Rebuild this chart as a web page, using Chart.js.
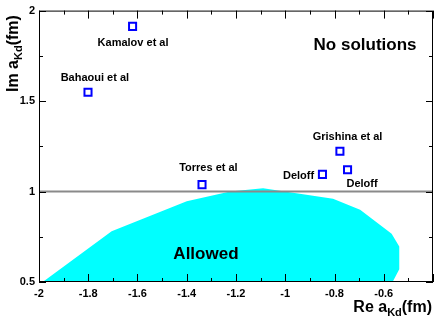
<!DOCTYPE html>
<html><head><meta charset="utf-8">
<script src="https://cdn.jsdelivr.net/npm/chart.js@4.4.0/dist/chart.umd.min.js"></script>
<style>html,body{margin:0;padding:0;background:#fff}</style>
</head><body>
<canvas id="c" width="436" height="319"></canvas>
<script>
// ---- data ----
const measurementNames = ['Kamalov et al', 'Bahaoui et al', 'Torres et al', 'Grishina et al', 'Deloff', 'Deloff'];
const measurementRe = [-1.620, -1.801, -1.338, -0.778, -0.849, -0.747];
const measurementIm = [1.913, 1.549, 1.038, 1.223, 1.095, 1.120];
const allowedRe = [-1.985, -1.705, -1.400, -1.224, -1.090, -0.806, -0.696, -0.568, -0.537, -0.537, -0.564, -1.985];
const allowedIm = [0.500, 0.780, 0.946, 1.000, 1.018, 0.960, 0.900, 0.767, 0.696, 0.571, 0.500, 0.500];
const limitIm = 1;
const xTickValues = [-2, -1.8, -1.6, -1.4, -1.2, -1, -0.8, -0.6];
const yTickValues = [0.5, 1, 1.5, 2];
// label anchors (data coords, text centre)
const labelRe = [-1.618, -1.773, -1.312, -0.747, -0.946, -0.688];
const labelIm = [1.821, 1.628, 1.128, 1.299, 1.084, 1.043];
const regionNames = ['No solutions', 'Allowed'];
const regionRe = [-0.676, -1.322];
const regionIm = [1.810, 0.655];

const X_MIN = -2, X_MAX = -0.4, Y_MIN = 0.5, Y_MAX = 2;
const FONT = '"Liberation Sans", Arial, Helvetica, sans-serif';
const fmt = v => String(Number(v.toFixed(2)));
const TARGET = { left: 39, top: 5, right: 433, bottom: 282 };

function drawSubText(ctx, parts, x, y) {
  let cx = x;
  for (const [t, size, dy] of parts) {
    ctx.font = 'bold ' + size + 'px ' + FONT;
    ctx.fillText(t, cx, y + dy);
    cx += ctx.measureText(t).width;
  }
}
function partsWidth(ctx, parts) {
  let w = 0;
  for (const [t, size] of parts) { ctx.font = 'bold ' + size + 'px ' + FONT; w += ctx.measureText(t).width; }
  return w;
}

const decorPlugin = {
  id: 'decor',
  afterDatasetsDraw(chart) {
    const ctx = chart.ctx, a = chart.chartArea;
    const xs = chart.scales.x, ys = chart.scales.y;
    ctx.save();
    ctx.strokeStyle = '#000'; ctx.lineWidth = 1;
    ctx.strokeRect(a.left + 0.5, a.top + 0.5, a.right - a.left - 1, a.bottom - a.top - 1);
    ctx.beginPath();
    for (let i = 0; i <= 16; i++) {
      const v = X_MIN + i * 0.1;
      const px = Math.round(xs.getPixelForValue(v)) + 0.5;
      const len = (i % 2 === 0) ? 8 : 4;
      ctx.moveTo(px, a.bottom); ctx.lineTo(px, a.bottom - len);
      ctx.moveTo(px, a.top); ctx.lineTo(px, a.top + len);
    }
    for (let i = 0; i <= 6; i++) {
      const v = Y_MIN + i * 0.25;
      const py = Math.round(ys.getPixelForValue(v)) + 0.5;
      const len = (i % 2 === 0) ? 7 : 4;
      ctx.moveTo(a.left, py); ctx.lineTo(a.left + len, py);
      ctx.moveTo(a.right, py); ctx.lineTo(a.right - len, py);
    }
    ctx.stroke();
    ctx.fillStyle = '#000';
    ctx.textAlign = 'center'; ctx.textBaseline = 'middle';
    ctx.font = 'bold 11px ' + FONT;
    measurementNames.forEach((n, i) => {
      ctx.fillText(n, xs.getPixelForValue(labelRe[i]), ys.getPixelForValue(labelIm[i]));
    });
    ctx.font = 'bold 17px ' + FONT;
    regionNames.forEach((n, i) => {
      ctx.fillText(n, xs.getPixelForValue(regionRe[i]), ys.getPixelForValue(regionIm[i]));
    });
    ctx.textAlign = 'left'; ctx.textBaseline = 'alphabetic';
    const xParts = [['Re a', 16, 0], ['Kd', 11, 4], ['(fm)', 16, 0]];
    const xw = partsWidth(ctx, xParts);
    drawSubText(ctx, xParts, 432 - xw, 312);
    const yParts = [['Im a', 16, 0], ['Kd', 11, 4], ['(fm)', 16, 0]];
    ctx.translate(18, 92);
    ctx.rotate(-Math.PI / 2);
    drawSubText(ctx, yParts, 0, 0);
    ctx.restore();
  }
};

const tickFont = { family: FONT, size: 11, weight: 'bold' };

const chart = new Chart(document.getElementById('c'), {
  type: 'scatter',
  data: {
    datasets: [
      {
        label: 'measurements',
        data: measurementRe.map((x, i) => ({ x, y: measurementIm[i] })),
        pointStyle: 'rect', pointRadius: 5, pointBorderWidth: 2,
        borderColor: '#0000ff', backgroundColor: '#ffffff',
        order: 0
      },
      {
        label: 'limit',
        data: [{ x: X_MIN, y: limitIm }, { x: X_MAX, y: limitIm }],
        showLine: true, pointRadius: 0, borderColor: '#8a8a8a', borderWidth: 2,
        order: 1
      },
      {
        label: 'allowed',
        data: allowedRe.map((x, i) => ({ x, y: allowedIm[i] })),
        showLine: true, pointRadius: 0, borderWidth: 0, borderColor: 'rgba(0,0,0,0)',
        backgroundColor: '#00ffff', fill: 'shape', tension: 0,
        order: 2
      }
    ]
  },
  options: {
    responsive: false, animation: false, devicePixelRatio: 1,
    layout: { padding: { top: 5, right: 3, left: 0, bottom: 0 }, autoPadding: false },
    plugins: { legend: { display: false }, tooltip: { enabled: false } },
    scales: {
      x: {
        type: 'linear', min: X_MIN, max: X_MAX,
        afterBuildTicks: s => { s.ticks = xTickValues.map(v => ({ value: v })); },
        afterFit: s => { s.height = 37; },
        grid: { display: false, drawTicks: false },
        border: { display: false },
        ticks: { callback: v => fmt(v), font: tickFont, color: '#000', padding: 5, maxRotation: 0, autoSkip: false }
      },
      y: {
        type: 'linear', min: Y_MIN, max: Y_MAX,
        afterBuildTicks: s => { s.ticks = yTickValues.map(v => ({ value: v })); },
        afterFit: s => { s.width = 39; },
        grid: { display: false, drawTicks: false },
        border: { display: false },
        ticks: { callback: v => fmt(v), font: tickFont, color: '#000', padding: 4, autoSkip: false }
      }
    }
  },
  plugins: [decorPlugin]
});

// nudge layout padding so the plot area lands exactly on the target frame
for (let k = 0; k < 3; k++) {
  const a = chart.chartArea, p = chart.options.layout.padding;
  const dt = a.top - TARGET.top, db = a.bottom - TARGET.bottom;
  const dl = a.left - TARGET.left, dr = a.right - TARGET.right;
  if (!dt && !db && !dl && !dr) break;
  p.top -= dt; p.bottom += db; p.left -= dl; p.right += dr;
  chart.update();
}
</script>
</body></html>
